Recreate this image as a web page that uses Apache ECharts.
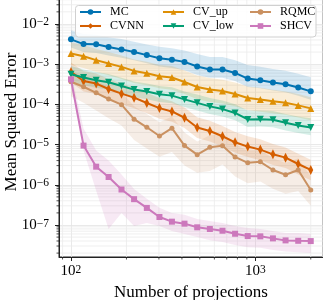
<!DOCTYPE html>
<html><head><meta charset="utf-8">
<script src="https://cdn.jsdelivr.net/npm/echarts@6/dist/echarts.min.js"></script>
<style>html,body{margin:0;padding:0;background:#fff}#c{width:323px;height:300px}</style>
</head><body><div id="c"></div>
<script>
// ---- data ----
const projections = [100,117,137,160,188,220,258,302,353,413,484,567,664,777,910,1065,1247,1460,1710,2000];

const mcMean = [4.14e-3,3.16e-3,3.11e-3,2.66e-3,2.33e-3,2.0e-3,1.68e-3,1.41e-3,1.28e-3,1.14e-3,8.76e-4,7.37e-4,7.37e-4,6.06e-4,4.39e-4,3.98e-4,3.49e-4,3.16e-4,2.62e-4,2.11e-4];
const mcHigh = [7.0e-3,5.6e-3,5.4e-3,4.7e-3,4.2e-3,3.6e-3,3.1e-3,2.7e-3,2.5e-3,2.2e-3,1.8e-3,1.5e-3,1.5e-3,1.25e-3,9.5e-4,8.6e-4,7.6e-4,6.9e-4,5.8e-4,4.7e-4];
const mcLow = [2.6e-3,2.0e-3,1.9e-3,1.65e-3,1.45e-3,1.25e-3,1.05e-3,8.8e-4,8.0e-4,7.1e-4,5.4e-4,4.6e-4,4.6e-4,3.8e-4,2.7e-4,2.5e-4,2.2e-4,2.0e-4,1.65e-4,1.3e-4];

const cvnnMean = [6.42e-4,3.82e-4,3.29e-4,2.41e-4,1.85e-4,1.47e-4,1.08e-4,8.08e-5,6.68e-5,4.65e-5,2.66e-5,2.18e-5,1.61e-5,1.14e-5,8.91e-6,7.50e-6,5.72e-6,4.73e-6,3.29e-6,2.34e-6];
const cvnnHigh = [1.1e-3,6.8e-4,5.9e-4,4.3e-4,3.3e-4,2.6e-4,1.95e-4,1.45e-4,1.2e-4,8.4e-5,4.8e-5,3.9e-5,2.9e-5,2.05e-5,1.6e-5,1.35e-5,1.03e-5,8.5e-6,5.9e-6,4.2e-6];
const cvnnLow = [3.5e-4,2.1e-4,1.8e-4,1.3e-4,1.0e-4,8.0e-5,6.0e-5,4.4e-5,3.7e-5,2.6e-5,1.45e-5,1.2e-5,8.9e-6,6.3e-6,4.9e-6,4.1e-6,3.1e-6,2.6e-6,1.8e-6,1.3e-6];

const cvUpMean = [1.85e-3,1.58e-3,1.26e-3,1.04e-3,8.56e-4,6.80e-4,5.96e-4,5.01e-4,4.65e-4,3.61e-4,2.71e-4,2.33e-4,2.15e-4,1.81e-4,1.44e-4,1.33e-4,1.19e-4,1.10e-4,9.44e-5,7.94e-5];
const cvUpHigh = [3.5e-3,3.0e-3,2.4e-3,2.0e-3,1.65e-3,1.3e-3,1.15e-3,9.6e-4,9.0e-4,7.0e-4,5.2e-4,4.5e-4,4.1e-4,3.5e-4,2.8e-4,2.6e-4,2.3e-4,2.1e-4,1.8e-4,1.5e-4];
const cvUpLow = [9.5e-4,8.0e-4,6.4e-4,5.3e-4,4.3e-4,3.4e-4,3.0e-4,2.5e-4,2.3e-4,1.8e-4,1.35e-4,1.15e-4,1.05e-4,9.0e-5,7.2e-5,6.6e-5,6.0e-5,5.5e-5,4.7e-5,4.0e-5];

const cvLowMean = [5.62e-4,4.65e-4,3.98e-4,3.55e-4,2.87e-4,2.33e-4,2.08e-4,1.78e-4,1.65e-4,1.33e-4,1.09e-4,8.91e-5,7.63e-5,6.13e-5,4.22e-5,4.29e-5,4.15e-5,3.49e-5,2.99e-5,2.66e-5];
const cvLowHigh = [9.0e-4,7.4e-4,6.4e-4,5.7e-4,4.6e-4,3.7e-4,3.3e-4,2.85e-4,2.65e-4,2.1e-4,1.75e-4,1.45e-4,1.25e-4,1.0e-4,7.0e-5,7.0e-5,6.8e-5,5.8e-5,5.0e-5,4.5e-5];
const cvLowLow = [3.6e-4,3.0e-4,2.6e-4,2.3e-4,1.85e-4,1.5e-4,1.35e-4,1.15e-4,1.07e-4,8.6e-5,7.0e-5,5.8e-5,5.0e-5,4.0e-5,2.75e-5,2.8e-5,2.7e-5,2.25e-5,1.95e-5,1.7e-5];

const rqmcMean = [3.65e-4,2.74e-4,1.94e-4,1.36e-4,9.83e-5,4.29e-5,2.69e-5,1.63e-5,2.56e-5,9.44e-6,5.62e-6,8.56e-6,9.33e-6,4.93e-6,3.51e-6,3.72e-6,2.33e-6,1.78e-6,2.34e-6,7.41e-7];
const rqmcHigh = [7.0e-4,5.2e-4,3.8e-4,2.7e-4,2.0e-4,9.0e-5,5.8e-5,3.6e-5,5.0e-5,2.0e-5,1.2e-5,1.7e-5,1.8e-5,1.0e-5,7.0e-6,7.2e-6,4.6e-6,3.5e-6,4.6e-6,1.6e-6];
const rqmcLow = [1.6e-4,1.1e-4,7.0e-5,4.5e-5,3.0e-5,1.3e-5,8.0e-6,5.0e-6,6.5e-6,3.0e-6,2.0e-6,2.2e-6,3.2e-6,1.6e-6,1.1e-6,1.2e-6,8.0e-7,6.0e-7,7.0e-7,3.0e-7];

const shcvMean = [4.2e-4,9.44e-6,2.82e-6,1.56e-6,7.63e-7,4.39e-7,2.66e-7,1.58e-7,1.21e-7,1.08e-7,8.76e-8,7.94e-8,7.20e-8,6.06e-8,5.31e-8,5.22e-8,4.65e-8,4.14e-8,4.05e-8,3.98e-8];
const shcvHigh = [6.3e-4,2.5e-5,7.1e-6,4.0e-6,1.8e-6,7.9e-7,4.5e-7,2.7e-7,2.0e-7,1.8e-7,1.4e-7,1.26e-7,1.12e-7,9.4e-8,8.4e-8,7.9e-8,7.1e-8,6.3e-8,6.3e-8,6.0e-8];
const shcvLow = [3.0e-4,7.1e-6,7.1e-7,7.9e-8,2.0e-7,9.4e-8,1.12e-7,9.4e-8,7.1e-8,6.0e-8,5.0e-8,4.2e-8,3.8e-8,3.2e-8,2.8e-8,2.7e-8,2.4e-8,2.2e-8,2.1e-8,2.0e-8];

const seriesNames = ['MC','CVNN','CV_up','CV_low','RQMC','SHCV'];
const xMinorTicks = [90,200,300,400,500,600,700,800,900,2000];
const yMinorTicks = [2e-8,3e-8,4e-8,5e-8,6e-8,7e-8,8e-8,9e-8,
  2e-7,3e-7,4e-7,5e-7,6e-7,7e-7,8e-7,9e-7,
  2e-6,3e-6,4e-6,5e-6,6e-6,7e-6,8e-6,9e-6,
  2e-5,3e-5,4e-5,5e-5,6e-5,7e-5,8e-5,9e-5,
  2e-4,3e-4,4e-4,5e-4,6e-4,7e-4,8e-4,9e-4,
  2e-3,3e-3,4e-3,5e-3,6e-3,7e-3,8e-3,9e-3,
  2e-2,3e-2,4e-2,5e-2,6e-2,7e-2,8e-2];

// ---- styling ----
const FONT = 'Liberation Serif';
const colors = {MC:'#0173b2', CVNN:'#d55e00', CV_up:'#de8f05', CV_low:'#029e73', RQMC:'#ca9161', SHCV:'#cc78bc'};
const means = {MC:mcMean, CVNN:cvnnMean, CV_up:cvUpMean, CV_low:cvLowMean, RQMC:rqmcMean, SHCV:shcvMean};
const highs = {MC:mcHigh, CVNN:cvnnHigh, CV_up:cvUpHigh, CV_low:cvLowHigh, RQMC:rqmcHigh, SHCV:shcvHigh};
const lows = {MC:mcLow, CVNN:cvnnLow, CV_up:cvUpLow, CV_low:cvLowLow, RQMC:rqmcLow, SHCV:shcvLow};
const symbols = {
  MC:{symbol:'circle', symbolSize:6},
  CVNN:{symbol:'diamond', symbolSize:[5,10]},
  CV_up:{symbol:'triangle', symbolSize:7},
  CV_low:{symbol:'triangle', symbolSize:7, symbolRotate:180},
  RQMC:{symbol:'circle', symbolSize:5},
  SHCV:{symbol:'rect', symbolSize:6}
};

const X_MIN = 86.1, X_MAX = 2322, Y_MIN = 1.6e-8, Y_MAX = 0.083;
const GRID = {left:59, top:-13, width:263.7, height:270};

function isPow10(v){ const e=Math.log10(v); return Math.abs(e-Math.round(e))<1e-6; }
function powLabel(v){
  if (!isPow10(v)) return '';
  const r = Math.round(Math.log10(v));
  const exp = r < 0 ? '\u2212' + (-r) : String(r);
  return '{b|10}{s|' + exp + '}';
}
const rich = {
  b:{fontFamily:FONT, fontSize:15, color:'#000', lineHeight:15, verticalAlign:'bottom', padding:[4,0,0,0]},
  s:{fontFamily:FONT, fontSize:11.5, color:'#000', lineHeight:11, verticalAlign:'top'}
};

const series = [];
seriesNames.forEach(name => {
  const c = colors[name];
  series.push({
    name: name + ' band', type:'custom', coordinateSystem:'cartesian2d', silent:true, z:1,
    data:[[projections[0], means[name][0]]],
    renderItem:(params, api) => {
      const pts = [];
      for (let i=0;i<projections.length;i++) pts.push(api.coord([projections[i], highs[name][i]]));
      for (let i=projections.length-1;i>=0;i--) pts.push(api.coord([projections[i], lows[name][i]]));
      return {type:'polygon', shape:{points:pts}, style:{fill:c, opacity:0.16}};
    }
  });
});
seriesNames.forEach((name, k) => {
  const c = colors[name];
  series.push(Object.assign({
    name, type:'line', z:3+k,
    data: projections.map((x,i)=>[x, means[name][i]]),
    lineStyle:{color:c, width:2},
    itemStyle:{color:c},
    showSymbol:true, animation:false
  }, symbols[name]));
});

const legendBase = {
  orient:'vertical', top:6, padding:0, itemWidth:21, itemHeight:7, itemGap:2, z:30,
  textStyle:{fontFamily:FONT, fontSize:12, color:'#000', padding:[0,0,0,4]},
  selectedMode:false
};

const option = {
  animation:false,
  backgroundColor:'#fff',
  grid:{left:GRID.left, top:GRID.top, width:GRID.width, height:GRID.height, show:true, borderColor:'#222', borderWidth:1, backgroundColor:'transparent', containLabel:false, outerBoundsMode:'none'},
  xAxis:{
    type:'log', logBase:10, min:X_MIN, max:X_MAX,
    name:'Number of projections', nameLocation:'middle', nameGap:25,
    nameTextStyle:{fontFamily:FONT, fontSize:17, color:'#000'},
    axisLine:{show:true, lineStyle:{color:'#222', width:1}},
    axisTick:{show:true, inside:false, length:4, lineStyle:{color:'#222'}},
    axisLabel:{show:true, margin:7, formatter:powLabel, rich, showMinLabel:false, showMaxLabel:false},
    splitLine:{show:true, lineStyle:{color:'#e3e3e3', width:0.8}}
  },
  yAxis:{
    type:'log', logBase:10, min:Y_MIN, max:Y_MAX,
    name:'Mean Squared Error', nameLocation:'middle', nameGap:39, nameRotate:90, nameMoveOverlap:false,
    nameTextStyle:{fontFamily:FONT, fontSize:17, color:'#000'},
    axisLine:{show:true, lineStyle:{color:'#222', width:1}},
    axisTick:{show:true, inside:false, length:4, lineStyle:{color:'#222'}},
    axisLabel:{show:true, margin:10, formatter:powLabel, rich, showMinLabel:false, showMaxLabel:false},
    splitLine:{show:true, lineStyle:{color:'#e3e3e3', width:0.8}}
  },
  legend:[
    Object.assign({}, legendBase, {left:79, data:['MC','CVNN']}),
    Object.assign({}, legendBase, {left:162, data:['CV_up','CV_low']}),
    Object.assign({}, legendBase, {left:249, data:['RQMC','SHCV']})
  ],
  series
};

const chart = echarts.init(document.getElementById('c'), null, {renderer:'canvas'});
chart.setOption(option);

// minor log gridlines and ticks, positioned through the chart's own axes
const bottom = GRID.top + GRID.height, right = GRID.left + GRID.width;
const graphics = [];
xMinorTicks.forEach(v => {
  const px = chart.convertToPixel({xAxisIndex:0}, v);
  graphics.push({type:'line', silent:true, z:0, shape:{x1:px, y1:GRID.top, x2:px, y2:bottom}, style:{stroke:'#ebebeb', lineWidth:0.8}});
  graphics.push({type:'line', silent:true, z:5, shape:{x1:px, y1:bottom, x2:px, y2:bottom+2.5}, style:{stroke:'#222', lineWidth:0.8}});
});
yMinorTicks.forEach(v => {
  const py = chart.convertToPixel({yAxisIndex:0}, v);
  graphics.push({type:'line', silent:true, z:0, shape:{x1:GRID.left, y1:py, x2:right, y2:py}, style:{stroke:'#ebebeb', lineWidth:0.8}});
  graphics.push({type:'line', silent:true, z:5, shape:{x1:GRID.left-2.5, y1:py, x2:GRID.left, y2:py}, style:{stroke:'#222', lineWidth:0.8}});
});
graphics.push({type:'rect', silent:true, z:20, shape:{x:75.5, y:5.5, width:240.5, height:31.5, r:3}, style:{fill:'rgba(255,255,255,0.85)', stroke:'#d0d0d0', lineWidth:1}});
chart.setOption({graphic:graphics});
</script>
</body></html>
